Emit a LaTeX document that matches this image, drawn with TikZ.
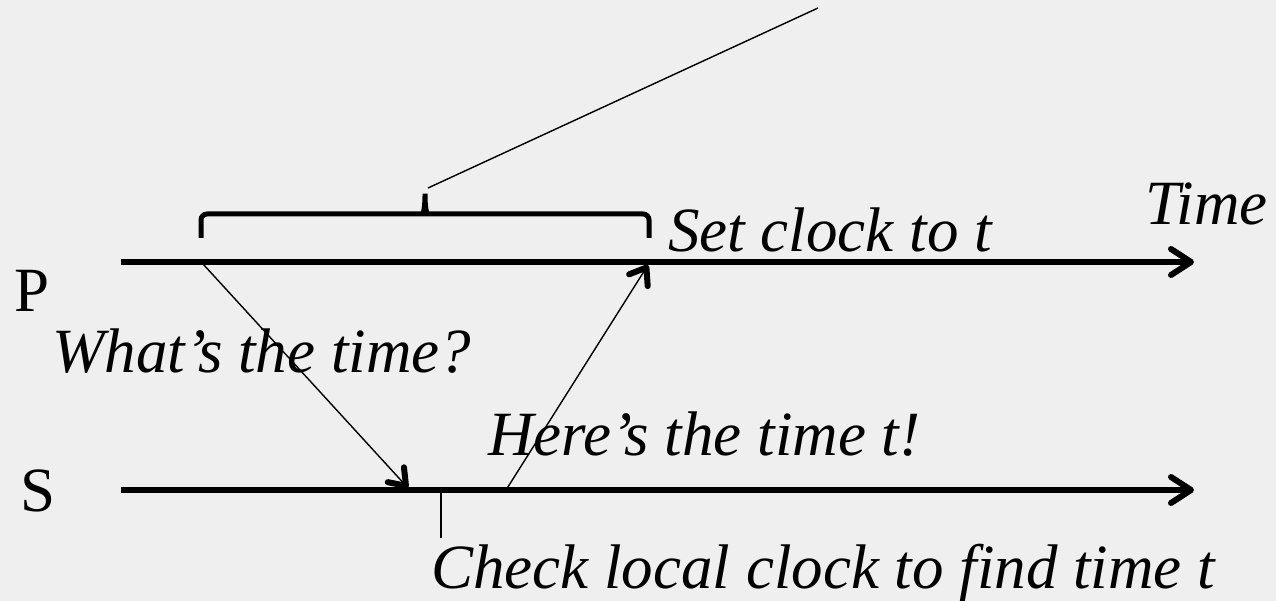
\documentclass[tikz,border=0pt]{standalone}
\usepackage{fontspec}
\setmainfont{Liberation Serif}
\usetikzlibrary{arrows.meta}

\begin{document}
\begin{tikzpicture}[x=1pt, y=-1pt,
    timeline/.style = {line width=6pt, -{Straight Barb[length=20pt, width=26pt, line width=6pt, round]}},
    msg/.style = {line width=1.4pt, -{Straight Barb[length=15pt, width=22pt, line width=6pt, round]}},
    thin/.style = {line width=1.4pt},
    lbl/.style = {inner sep=0pt, anchor=base west, font=\fontsize{63}{76}\selectfont\itshape},
    proc/.style = {inner sep=0pt, anchor=base west, font=\fontsize{63}{76}\selectfont}]
  \fill[fill={rgb,255:red,239;green,239;blue,239}] (0,0) rectangle (1276,601);
  \useasboundingbox (0,0) rectangle (1276,601);
  % time lines
  \coordinate (P0) at (121,262);
  \coordinate (P1) at (1194,262);
  \coordinate (S0) at (121,490);
  \coordinate (S1) at (1194,490);
  \draw[timeline] (P0) -- (P1);
  \draw[timeline] (S0) -- (S1);
  \node[proc] (P) at (14,312) {P};
  \node[proc] (S) at (20,511) {S};
  \node[lbl, anchor=base east] (time) at (1268,225) {Time};
  % messages
  \coordinate (ask) at (203,264);
  \coordinate (recv) at (408,488);
  \coordinate (reply) at (506,490);
  \coordinate (set) at (648,265);
  \draw[msg] (ask) -- (recv);
  \draw[msg] (reply) -- (set);
  \node[lbl] (question) at (52,372) {What’s the time?};
  \node[lbl] (answer) at (488,455) {Here’s the time t!};
  \node[lbl] (setclock) at (668,252) {Set clock to t};
  % local clock check
  \coordinate (chk) at (441,490);
  \coordinate (chkend) at (441,538);
  \draw[thin] (chk) -- (chkend);
  \node[lbl] (check) at (431,588) {Check local clock to find time t};
  % round trip brace
  \coordinate (tip) at (425,190);
  \coordinate (far) at (818,8);
  \draw[line width=5pt, rounded corners=6pt] (201,238) -- (201,214) -- (417,214)
    .. controls (423,214) and (425,208) .. (tip)
    .. controls (425,208) and (427,214) .. (433,214) -- (649,214) -- (649,238);
  \draw[thin] (tip) ++(3,-2) -- (far);
\end{tikzpicture}
\end{document}
